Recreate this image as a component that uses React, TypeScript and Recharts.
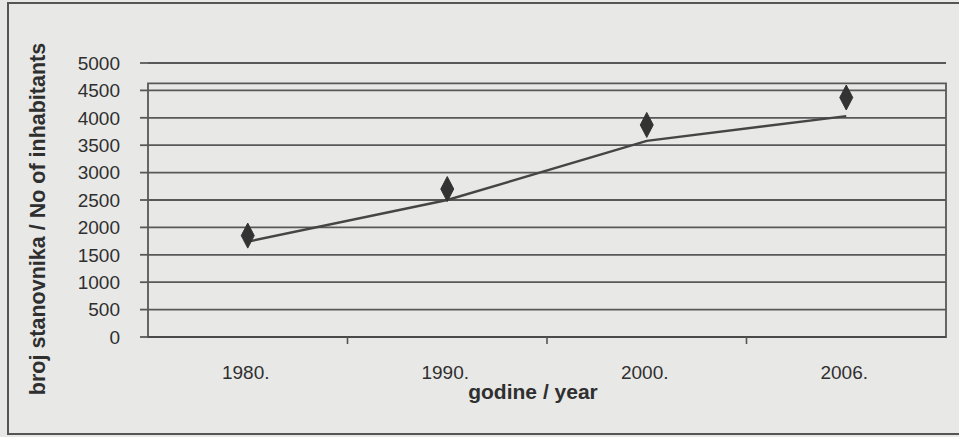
import React from 'react';
import { LineChart, Line, XAxis, YAxis, CartesianGrid, ReferenceArea } from 'recharts';

const years = ['1980.', '1990.', '2000.', '2006.'];
const inhabitants = [1850, 2700, 3870, 4370];
const trend = [1740, 2500, 3580, 4030];
const yTicks = [0, 500, 1000, 1500, 2000, 2500, 3000, 3500, 4000, 4500, 5000];
const plotFrameTop = 4630;

const yTitle = 'broj stanovnika / No of inhabitants';
const xTitle = 'godine / year';

const data = years.map((year, i) => ({ year, inhabitants: inhabitants[i], trend: trend[i] }));

const FONT = '"Liberation Sans", Arial, Helvetica, sans-serif';
const TEXT = '#2f2f2f';
const LINE = '#555';
const GRID = '#585858';
const HALF_BAND = 99.75;
const FRAME_END = years.length - 1;

const Diamond = (props: any) => {
  const { cx, cy, index } = props;
  if (cx == null || cy == null) return <g key={`d-${index}`} />;
  const w = 6.5;
  const h = 12.5;
  return (
    <path
      key={`d-${index}`}
      d={`M${cx},${cy - h} L${cx + w},${cy} L${cx},${cy + h} L${cx - w},${cy} Z`}
      fill="#333"
      stroke="#333"
      strokeWidth={1}
      strokeLinejoin="round"
    />
  );
};

const XTick = (props: any) => {
  const { x, y, payload, index } = props;
  const last = index === years.length - 1;
  return (
    <g>
      {!last && <line x1={x + HALF_BAND} y1={y} x2={x + HALF_BAND} y2={y + 7} stroke={LINE} strokeWidth={1.6} />}
      <text x={x - 2} y={y + 42} textAnchor="middle" fontFamily={FONT} fontSize={19} fill={TEXT}>
        {payload.value}
      </text>
    </g>
  );
};

const YTitle = (props: any) => {
  const vb = props.viewBox || { x: 0, y: 63, width: 148, height: 274 };
  const cy = vb.y + vb.height / 2 + 19;
  const x = 45;
  return (
    <text
      x={x}
      y={cy}
      transform={`rotate(-90 ${x} ${cy})`}
      textAnchor="middle"
      fontFamily={FONT}
      fontWeight="bold"
      fontSize={21.5}
      fill={TEXT}
    >
      {yTitle}
    </text>
  );
};

const XTitle = (props: any) => {
  const vb = props.viewBox || { x: 148, y: 337, width: 798, height: 100 };
  const cx = vb.x + vb.width / 2 - 14;
  return (
    <text x={cx} y={vb.y + 62} textAnchor="middle" fontFamily={FONT} fontWeight="bold" fontSize={21} fill={TEXT}>
      {xTitle}
    </text>
  );
};

export default function App() {
  return (
    <div
      style={{
        position: 'absolute',
        left: 0,
        top: 0,
        width: 959,
        height: 437,
        background: '#e8e8e6',
        overflow: 'hidden',
      }}
    >
      <div
        style={{
          position: 'absolute',
          left: 7,
          top: 2,
          width: 960,
          height: 429,
          borderLeft: '2px solid #555',
          borderTop: '2px solid #555',
          borderBottom: '2px solid #555',
        }}
      />
      <div style={{ position: 'absolute', left: 0, top: 0 }}>
        <LineChart
          width={959}
          height={437}
          data={data}
          margin={{ top: 63, right: 13, bottom: 0, left: 0 }}
        >
          <CartesianGrid horizontal vertical={false} stroke={GRID} strokeWidth={1.8} />
          <XAxis
            dataKey="year"
            type="category"
            height={100}
            padding={{ left: HALF_BAND, right: HALF_BAND }}
            axisLine={{ stroke: '#4a4a4a', strokeWidth: 2.2 }}
            tickLine={false}
            tickSize={0}
            tickMargin={0}
            tick={<XTick />}
            interval={0}
            label={(p: any) => <XTitle {...p} />}
          />
          <XAxis xAxisId="frame" type="number" domain={[0, FRAME_END]} allowDataOverflow hide />
          <ReferenceArea
            xAxisId="frame"
            x1={0}
            x2={FRAME_END}
            y1={0}
            y2={plotFrameTop}
            fill="none"
            stroke={GRID}
            strokeWidth={1.8}
            ifOverflow="visible"
          />
          <YAxis
            type="number"
            domain={[0, 5000]}
            ticks={yTicks}
            width={148}
            interval={0}
            axisLine={false}
            tickLine={{ stroke: GRID, strokeWidth: 1.8 }}
            tickSize={8}
            tickMargin={20}
            tick={{ fontFamily: FONT, fontSize: 19, fill: TEXT }}
            label={(p: any) => <YTitle {...p} />}
          />
          <Line
            type="linear"
            dataKey="trend"
            stroke="#454545"
            strokeWidth={2.4}
            dot={false}
            activeDot={false}
            isAnimationActive={false}
          />
          <Line
            type="linear"
            dataKey="inhabitants"
            stroke="none"
            dot={(p: any) => <Diamond {...p} />}
            activeDot={false}
            isAnimationActive={false}
          />
        </LineChart>
      </div>
    </div>
  );
}
